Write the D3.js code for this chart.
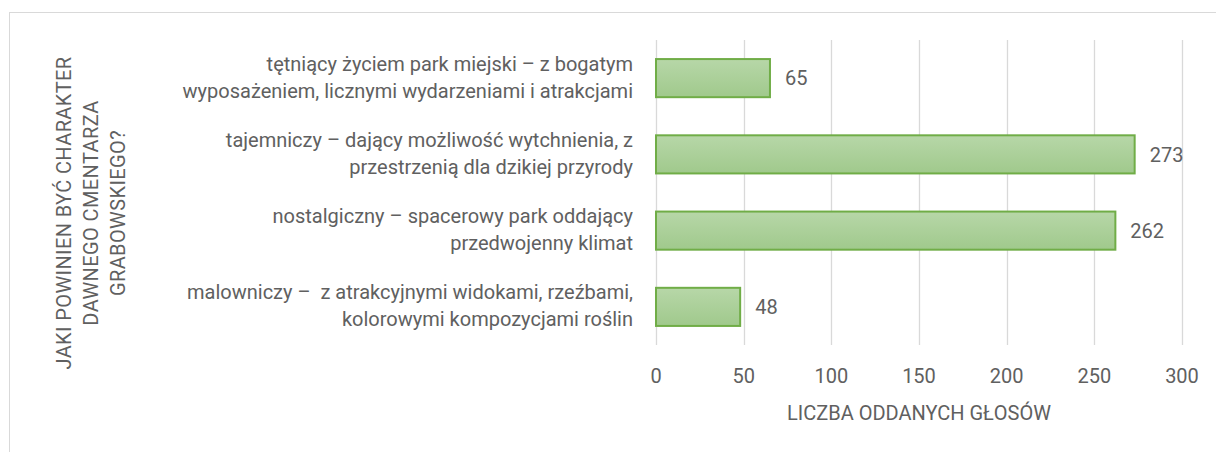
<!DOCTYPE html>
<html>
<head>
<meta charset="utf-8">
<script src="https://cdn.jsdelivr.net/npm/d3@7"></script>
<style>
  body { margin: 0; background: #fff; }
  text { font-family: Roboto, "Open Sans", sans-serif; fill: #606060; white-space: pre; }
</style>
</head>
<body>
<div id="chart"></div>
<script>
// data
const categories = [
  ["tętniący życiem park miejski – z bogatym", "wyposażeniem, licznymi wydarzeniami i atrakcjami"],
  ["tajemniczy – dający możliwość wytchnienia, z", "przestrzenią dla dzikiej przyrody"],
  ["nostalgiczny – spacerowy park oddający", "przedwojenny klimat"],
  ["malowniczy –  z atrakcyjnymi widokami, rzeźbami,", "kolorowymi kompozycjami roślin"]
];
const votes = [65, 273, 262, 48];
const xTicks = [0, 50, 100, 150, 200, 250, 300];
const xTitle = "LICZBA ODDANYCH GŁOSÓW";
const yTitle = ["JAKI POWINIEN BYĆ CHARAKTER", "DAWNEGO CMENTARZA", "GRABOWSKIEGO?"];

const W = 1216, H = 452;
const plot = { left: 656, right: 1182, top: 40, bottom: 345 };
const fs = "20px";

const svg = d3.select("#chart").append("svg")
  .attr("width", W).attr("height", H);

// chart border
svg.append("rect")
  .attr("x", 9.5).attr("y", 12.5)
  .attr("width", W).attr("height", H)
  .attr("fill", "none").attr("stroke", "#d9d9d9");

const defs = svg.append("defs");
const grad = defs.append("linearGradient")
  .attr("id", "barGrad").attr("x1", 0).attr("y1", 0).attr("x2", 0).attr("y2", 1);
grad.append("stop").attr("offset", "0%").attr("stop-color", "#b7d7a8");
grad.append("stop").attr("offset", "100%").attr("stop-color", "#a0c98c");

const x = d3.scaleLinear().domain([0, 300]).range([plot.left, plot.right]);
const y = d3.scaleBand().domain(d3.range(votes.length))
  .range([plot.top, plot.bottom]).paddingInner(0.5).paddingOuter(0.25);

// gridlines
svg.append("g")
  .selectAll("line")
  .data(xTicks)
  .join("line")
  .attr("x1", d => Math.round(x(d)) + 0.5)
  .attr("x2", d => Math.round(x(d)) + 0.5)
  .attr("y1", plot.top)
  .attr("y2", plot.bottom)
  .attr("stroke", "#d9d9d9")
  .attr("stroke-width", 1.3);

// tick labels
svg.append("g")
  .selectAll("text")
  .data(xTicks)
  .join("text")
  .attr("x", d => x(d))
  .attr("y", 383)
  .attr("text-anchor", "middle")
  .style("font-size", fs)
  .text(d => d);

// bars
svg.append("g")
  .selectAll("rect")
  .data(votes)
  .join("rect")
  .attr("x", x(0))
  .attr("y", (d, i) => y(i))
  .attr("width", d => x(d) - x(0))
  .attr("height", y.bandwidth())
  .attr("fill", "url(#barGrad)")
  .attr("stroke", "#70ad47")
  .attr("stroke-width", 2);

// value labels
svg.append("g")
  .selectAll("text")
  .data(votes)
  .join("text")
  .attr("x", d => x(d) + 15)
  .attr("y", (d, i) => y(i) + y.bandwidth() / 2)
  .attr("dy", "0.36em")
  .style("font-size", fs)
  .text(d => d);

// category labels
svg.append("g")
  .selectAll("text")
  .data(categories)
  .join("text")
  .attr("text-anchor", "end")
  .attr("y", (d, i) => y(i) + y.bandwidth() / 2)
  .style("font-size", fs)
  .each(function (d) {
    d3.select(this).selectAll("tspan")
      .data(d)
      .join("tspan")
      .attr("x", 633)
      .attr("dy", (t, j) => j === 0 ? "-0.38em" : "1.35em")
      .text(t => t);
  });

// x axis title
svg.append("text")
  .attr("x", x(150))
  .attr("y", 420)
  .attr("text-anchor", "middle")
  .style("font-size", fs)
  .text(xTitle);

// y axis title
svg.append("text")
  .attr("transform", "translate(71,213) rotate(-90)")
  .attr("text-anchor", "middle")
  .style("font-size", fs)
  .style("letter-spacing", "0.4px")
  .selectAll("tspan")
  .data(yTitle)
  .join("tspan")
  .attr("x", 0)
  .attr("dy", (t, j) => j === 0 ? 0 : "1.35em")
  .text(t => t);
</script>
</body>
</html>
